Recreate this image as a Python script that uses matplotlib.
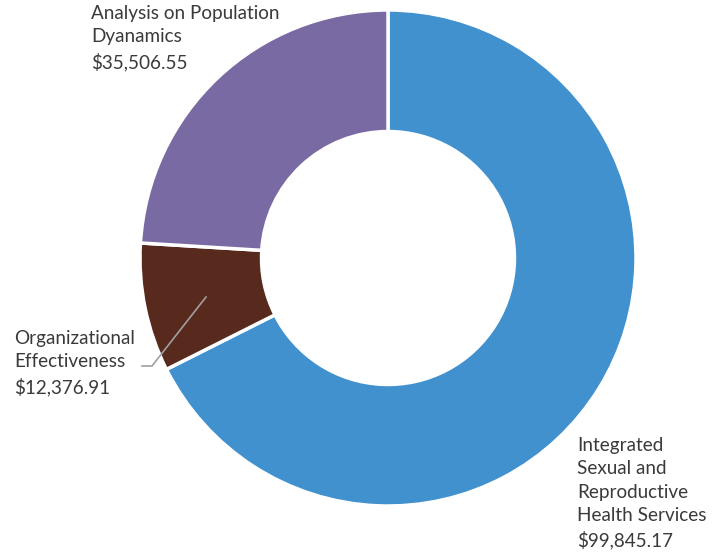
import matplotlib
matplotlib.use("Agg")
import matplotlib.pyplot as plt

categories = ["Integrated\nSexual and\nReproductive\nHealth Services",
              "Organizational\nEffectiveness",
              "Analysis on Population\nDyanamics"]
values = [99845.17, 12376.91, 35506.55]
colors = ["#4191CE", "#582A1E", "#7A6AA3"]

plt.rcParams['font.family'] = ['Lato', 'DejaVu Sans']

W, H = 721, 559
fig = plt.figure(figsize=(W/100, H/100), dpi=100)
ax = fig.add_axes([0, 0, 1, 1])

cx, cy, R = 388, H - 258, 248
ax.pie(values, colors=colors, startangle=90, counterclock=False,
       center=(cx, cy), radius=R, frame=True,
       wedgeprops=dict(width=R * 0.49, edgecolor='white', linewidth=2.5))
ax.set_xlim(0, W)
ax.set_ylim(0, H)
ax.set_aspect('equal')
ax.axis('off')

def lab(i):
    return f"{categories[i]}\n${values[i]:,.2f}"

tc = "#3A3A3A"
fs = 13.6
ls = 1.45
ax.text(577, H - 437, lab(0), ha='left', va='top', fontsize=fs, color=tc, linespacing=ls)
ax.text(14, H - 330, lab(1), ha='left', va='top', fontsize=fs, color=tc, linespacing=ls)
ax.text(91, H - 5, lab(2), ha='left', va='top', fontsize=fs, color=tc, linespacing=ls)

ax.plot([142, 152, 206], [H - 366, H - 366, H - 297], color="#A0A0A0", linewidth=1.2)

fig.savefig("out.png", dpi=100)
